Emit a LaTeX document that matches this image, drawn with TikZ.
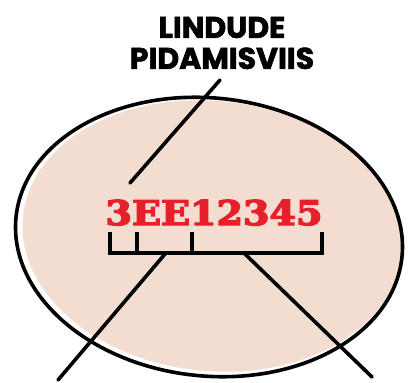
\documentclass[tikz,border=0pt]{standalone}
\usepackage{fontspec}
\newfontfamily\titlefont{Poppins}[BoldFeatures={FakeBold=2}]
\newfontfamily\codefont{DejaVu Serif Bold}[FakeBold=4]
\definecolor{peach}{RGB}{242,221,208}
\definecolor{codered}{RGB}{230,32,42}
\begin{document}
\begin{tikzpicture}[x=1pt,y=-1pt,
  ink/.style={line width=3.6pt,black,line cap=round,line join=round},
  bracket/.style={line width=3.8pt,black,line cap=butt,line join=miter}]
\useasboundingbox (0,0) rectangle (408,383);
% fill
\fill[peach,rotate around={-6:(212,236)}] (212,236) ellipse [x radius=190, y radius=135];
% outline
\draw[ink,rotate around={-6:(209,237)}] (209,237) ellipse [x radius=194, y radius=139];
% title
\node[align=center,font={\titlefont\bfseries\fontsize{30}{31}\selectfont}] (title) at (222,43) {LINDUDE\\PIDAMISVIIS};
% code
\node[text=codered,font={\codefont\fontsize{34}{34}\selectfont},inner sep=0pt,anchor=base] (code) at (214,225) {\scalebox{1.12}[1]{3EE12345}};
% bracket
\coordinate (t1) at (110,232);
\coordinate (t2) at (137,232);
\coordinate (t3) at (192,232);
\coordinate (t4) at (322,232);
\coordinate (b1) at (110,253);
\coordinate (b2) at (137,253);
\coordinate (b3) at (192,253);
\coordinate (b4) at (322,253);
\draw[bracket] (t1) -- (b1) -- (b4) -- (t4);
\draw[bracket] (t2) -- (b2);
\draw[bracket] (t3) -- (b3);
% leader lines
\coordinate (topstart) at (220,80);
\coordinate (topend) at (130,183);
\coordinate (lstart) at (165,254);
\coordinate (lend) at (58,380);
\coordinate (rstart) at (245,254);
\coordinate (rend) at (372,377);
\draw[ink] (topstart) -- (topend);
\draw[ink] (lstart) -- (lend);
\draw[ink] (rstart) -- (rend);
\end{tikzpicture}
\end{document}
